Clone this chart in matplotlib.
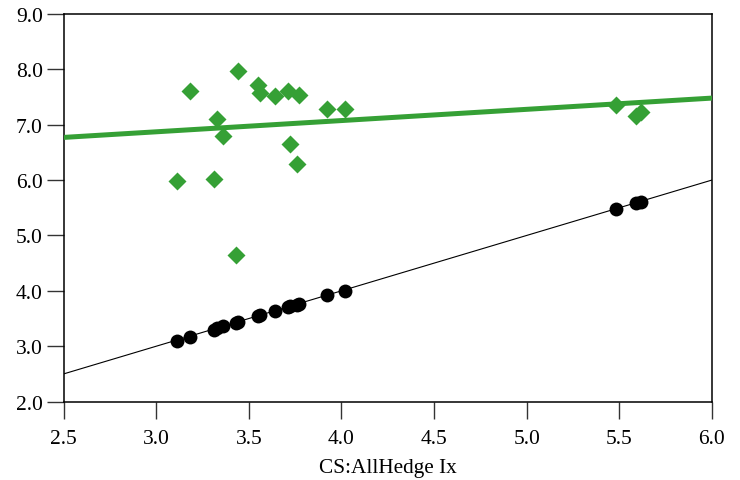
import numpy as np
import matplotlib
matplotlib.use("Agg")
import matplotlib.pyplot as plt

plt.rcParams["font.family"] = ["Liberation Serif", "DejaVu Serif"]

# данные
x_vals = [3.11, 3.18, 3.31, 3.33, 3.36, 3.43, 3.44, 3.55, 3.56, 3.64,
          3.71, 3.72, 3.76, 3.77, 3.92, 4.02, 5.48, 5.59, 5.62]
green_y = [5.98, 7.60, 6.02, 7.10, 6.80, 4.65, 7.97, 7.72, 7.57, 7.51,
           7.61, 6.66, 6.29, 7.54, 7.28, 7.28, 7.36, 7.16, 7.22]
black_y = [3.10, 3.16, 3.29, 3.32, 3.36, 3.42, 3.43, 3.55, 3.56, 3.64,
           3.70, 3.72, 3.75, 3.76, 3.93, 4.00, 5.47, 5.58, 5.61]

fit_x = [2.5, 6.0]
green_fit = [6.77, 7.48]
black_fit = [2.5, 6.0]

x_ticks = np.arange(2.5, 6.01, 0.5)
y_ticks = np.arange(2.0, 9.01, 1.0)

green = "#35a035"

fig = plt.figure(figsize=(7.4, 4.81), dpi=100)
ax = fig.add_axes([0.086, 0.163, 0.876, 0.806])

ax.plot(fit_x, black_fit, color="black", lw=0.8, zorder=2)
ax.plot(x_vals, black_y, "o", color="black", ms=10, mec="none", zorder=3)

ax.plot(x_vals, green_y, "D", color=green, ms=9, mec="none", zorder=3)
ax.plot(fit_x, green_fit, color=green, lw=3.6, zorder=4)

ax.set_xlim(2.5, 6.0)
ax.set_ylim(2.0, 9.0)
ax.set_xticks(x_ticks)
ax.set_yticks(y_ticks)
ax.set_xticklabels([f"{v:.1f}" for v in x_ticks])
ax.set_yticklabels([f"{v:.1f}" for v in y_ticks])

ax.tick_params(axis="both", direction="out", length=12, width=1.0,
               labelsize=15.5, color="#333333")
ax.tick_params(axis="y", pad=3)
ax.tick_params(axis="x", pad=8)
for s in ax.spines.values():
    s.set_linewidth(1.1)

ax.set_xlabel("CS:AllHedge Ix", fontsize=15.3, labelpad=7)

fig.savefig("out.png", dpi=100)
